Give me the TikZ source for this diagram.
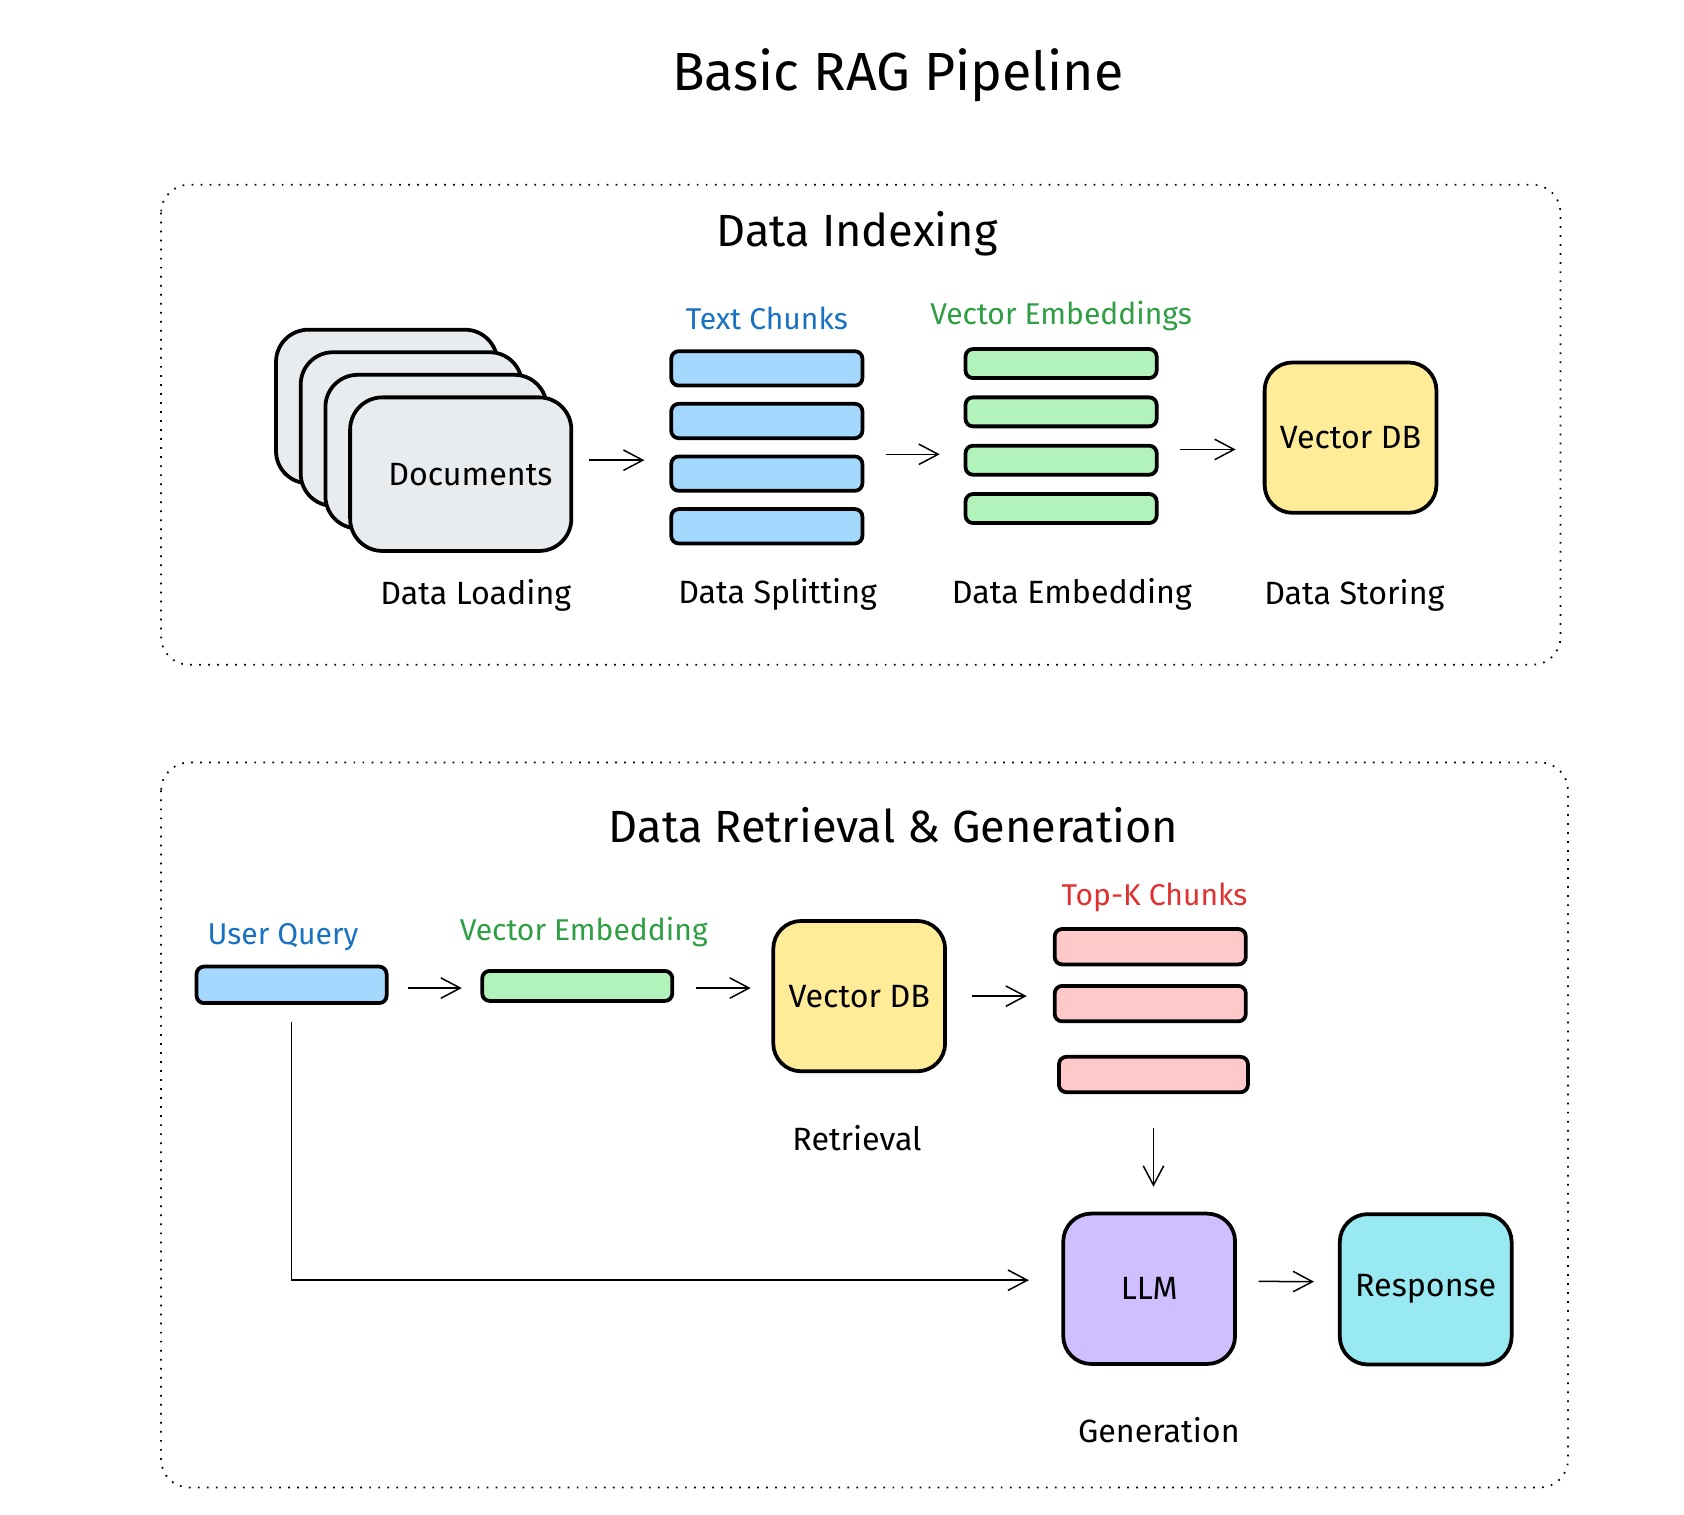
\documentclass[tikz,border=0pt]{standalone}
\usepackage{fontspec}
\setmainfont{Fira Sans}
\definecolor{docgray}{HTML}{E9ECEF}
\definecolor{chunkblue}{HTML}{A5D8FF}
\definecolor{embgreen}{HTML}{B2F2BB}
\definecolor{dbyellow}{HTML}{FFEC99}
\definecolor{topkred}{HTML}{FFC9C9}
\definecolor{llmpurple}{HTML}{D0BFFF}
\definecolor{respcyan}{HTML}{99E9F2}
\definecolor{labelblue}{HTML}{1971C2}
\definecolor{labelgreen}{HTML}{2F9E44}
\definecolor{labelred}{HTML}{E03131}
\usetikzlibrary{arrows.meta, positioning}

\begin{document}
\begin{tikzpicture}[x=1pt, y=-1pt,
    every node/.style={inner sep=0pt, outer sep=0pt},
    txt/.style={font=\fontsize{30}{36}\selectfont},
    tag/.style={font=\fontsize{28}{34}\selectfont},
    heading/.style={font=\fontsize{42}{50}\selectfont},
    card/.style={rectangle, draw, line width=3.5pt, rounded corners=30pt, fill=docgray, minimum width=206pt, minimum height=143pt},
    box/.style={rectangle, draw, line width=3.5pt, rounded corners=26pt, minimum width=160pt, minimum height=140pt, txt},
    bar/.style={rectangle, draw, line width=3.5pt, rounded corners=7pt, minimum width=178pt, minimum height=32pt},
    panel/.style={line width=1.6pt, dash pattern=on 1.6pt off 6.8pt, rounded corners=26pt},
    flow/.style={line width=1.4pt, -{Straight Barb[length=18pt, width=19pt]}, shorten <=22pt, shorten >=24pt}]
    \useasboundingbox (0,0) rectangle (1568,1410);

    \node[font=\fontsize{50}{60}\selectfont] (title) at (836,70) {Basic RAG Pipeline};

    % indexing
    \draw[panel] (150,172) rectangle (1453,619);
    \node[heading] (idxhead) at (798,218) {Data Indexing};

    \foreach \i in {3,2,1}
        \node[card] (card\i) at (429-23*\i, 441.5-21*\i) {};
    \node[card, txt] (docs) at (429,441.5) {\hspace{18pt}Documents};

    \node[bar, fill=chunkblue] (tc1) at (714,343) {};
    \node[bar, fill=chunkblue, below=17pt of tc1] (tc2) {};
    \node[bar, fill=chunkblue, below=17pt of tc2] (tc3) {};
    \node[bar, fill=chunkblue, below=17pt of tc3] (tc4) {};
    \node[tag, text=labelblue, above=20pt of tc1] (tclabel) {Text Chunks};

    \node[bar, fill=embgreen, minimum height=27pt] (ve1) at (988,338.5) {};
    \node[bar, fill=embgreen, minimum height=27pt, below=18pt of ve1] (ve2) {};
    \node[bar, fill=embgreen, minimum height=27pt, below=18pt of ve2] (ve3) {};
    \node[bar, fill=embgreen, minimum height=27pt, below=18pt of ve3] (ve4) {};
    \node[tag, text=labelgreen, above=17pt of ve1] (velabel) {Vector Embeddings};

    \node[box, fill=dbyellow] (vdb) at (1257.5,407.5) {Vector DB};

    \node[txt] (loadcap) at (443,554) {Data Loading};
    \node[txt] (splitcap) at (724,553) {Data Splitting};
    \node[txt] (embcap) at (998,553) {Data Embedding};
    \node[txt] (storecap) at (1261,554) {Data Storing};

    \draw[flow, shorten <=16pt, shorten >=25pt] ([yshift=13pt]docs.east) -- ([yshift=13pt]docs.east -| tc1.west);
    \draw[flow] ([yshift=18pt]tc3.east) -- ([yshift=18pt]tc3.east -| ve1.west);
    \draw[flow, shorten >=27pt] ([yshift=10pt]ve3.east) -- ([yshift=10pt]ve3.east -| vdb.west);

    % retrieval and generation
    \draw[panel] (150,710) rectangle (1460,1385);
    \node[heading] (rghead) at (832,768) {Data Retrieval \& Generation};

    \node[bar, fill=chunkblue, minimum width=177pt, minimum height=34pt] (qbar) at (271.5,917) {};
    \node[tag, text=labelblue, above=15pt of qbar, xshift=-8pt] (qlabel) {User Query};

    \node[bar, fill=embgreen, minimum width=177pt, minimum height=28pt] (ebar) at (537.5,918) {};
    \node[tag, text=labelgreen, above=22pt of ebar, xshift=6pt] (elabel) {Vector Embedding};

    \node[box, fill=dbyellow] (vdb2) at (800,927.5) {Vector DB};
    \node[txt] (retcap) at (798,1060) {Retrieval};

    \node[bar, fill=topkred, minimum height=33pt] (tk1) at (1071,881.5) {};
    \node[bar, fill=topkred, minimum height=33pt, below=20pt of tk1] (tk2) {};
    \node[bar, fill=topkred, minimum height=33pt, minimum width=176pt] (tk3) at (1074,1000.5) {};
    \node[tag, text=labelred, above=16pt of tk1, xshift=4pt] (tklabel) {Top-K Chunks};

    \node[box, fill=llmpurple] (llm) at (1070,1200) {LLM};
    \node[box, fill=respcyan] (resp) at (1327.5,1200.5) {Response};
    \node[txt] (gencap) at (1079,1332) {Generation};

    \draw[flow, shorten <=20pt, shorten >=19pt] ([yshift=-3pt]qbar.east) -- ([yshift=-3pt]qbar.east -| ebar.west);
    \draw[flow, shorten >=21pt] ([yshift=-2pt]ebar.east) -- ([yshift=-2pt]ebar.east -| vdb2.west);
    \draw[flow, shorten <=25pt, shorten >=26pt] (vdb2.east) -- (vdb2.east -| tk1.west);
    \draw[flow, shorten <=33pt, shorten >=25pt] (tk3.south) -- (tk3.south |- llm.north);
    \draw[flow] ([yshift=7pt]llm.east) -- ([yshift=7pt]resp.west);
    \draw[flow, shorten <=18pt, shorten >=32pt] (qbar.south) |- ([yshift=8pt]llm.west);
\end{tikzpicture}
\end{document}
